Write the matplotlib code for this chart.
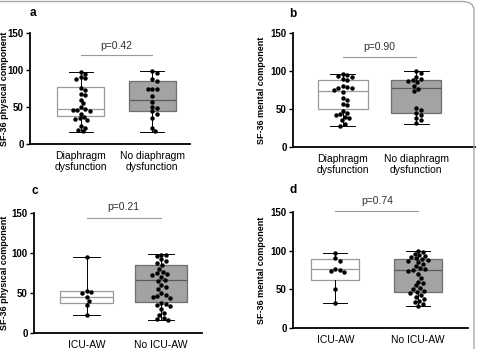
import numpy as np
import matplotlib.pyplot as plt
from matplotlib.patches import FancyBboxPatch

plt.rcParams['font.family'] = ['Liberation Sans', 'DejaVu Sans']

# values
dd_phys = [97, 95, 91, 89, 88, 76, 73, 67, 66, 60, 55, 50, 47, 46, 46, 45, 41,
           37, 35, 34, 32, 24, 22, 19, 17]
nodd_phys = [98, 96, 88, 85, 75, 75, 74, 65, 57, 50, 49, 44, 41, 35, 22, 17]
dd_ment = [96, 95, 93, 92, 90, 88, 80, 79, 78, 77, 75, 73, 65, 62, 56, 55, 48,
           45, 43, 42, 40, 38, 35, 30, 28]
nodd_ment = [100, 97, 92, 90, 88, 87, 85, 80, 76, 74, 51, 49, 45, 42, 38, 35, 32]
icu_phys = [95, 53, 51, 50, 45, 40, 35, 22]
noicu_phys = [98, 97, 96, 92, 90, 88, 85, 80, 76, 75, 74, 73, 70, 66, 65, 60,
              58, 55, 50, 47, 46, 45, 44, 38, 36, 35, 34, 30, 25, 22, 19, 17, 16]
icu_ment = [97, 90, 87, 76, 75, 74, 73, 50, 32]
noicu_ment = [100, 98, 96, 94, 93, 92, 90, 89, 88, 87, 85, 83, 80, 78, 76, 75,
              74, 70, 65, 60, 58, 55, 52, 50, 48, 47, 45, 43, 40, 38, 35, 33, 31, 29]

# box stats (whisker low, q1, median, q3, whisker high)
stats_a = [(16.6, 37.2, 47.9, 76.6, 97.6), (16.1, 45.2, 60, 84.6, 98.5)]
stats_b = [(27.8, 49.9, 73.7, 87.8, 96.2), (30.9, 45, 77.6, 87.8, 99.7)]
stats_c = [(22, 37.9, 45.4, 52, 94.6), (16, 38.3, 66.7, 84.6, 98.3)]
stats_d = [(32, 62, 75.9, 88.9, 97.5), (29, 46.4, 75, 88.9, 100)]

labels_dd = ['Diaphragm\ndysfunction', 'No diaphragm\ndysfunction']
labels_icu = ['ICU-AW', 'No ICU-AW']
pvals = ['p=0.42', 'p=0.90', 'p=0.21', 'p=0.74']

W, H = 478, 349
fig = plt.figure(figsize=(W / 100, H / 100), dpi=100)


def swarm(vals, center, sx, sy, d=4.4):
    # simple beeswarm in pixel space
    placed = []
    xs = np.zeros(len(vals))
    order = np.argsort(vals)[::-1]
    for i in order:
        y = vals[i] * sy
        k = 0
        while True:
            offs = [0.0] if k == 0 else [k * 0.9, -k * 0.9]
            ok = None
            for o in offs:
                if all((o - px) ** 2 + (y - py) ** 2 >= d * d for px, py in placed):
                    ok = o
                    break
            if ok is not None:
                placed.append((ok, y))
                xs[i] = center + ok / sx
                break
            k += 1
    return xs


def panel(rect, groups, stats, labels, ylabel, letter, pval, xlim, width,
          line_y, text_y, ylab_x):
    l, t, w, h = rect
    ax = fig.add_axes([l / W, 1 - (t + h) / H, w / W, h / H])
    ax.set_xlim(*xlim)
    ax.set_ylim(0, 150)
    sx = w / (xlim[1] - xlim[0])
    sy = h / 150.0
    faces = ['white', '#a3a3a3']
    edges = ['#9a9a9a', '#6f6f6f']
    meds = ['#9a9a9a', '#5a5a5a']
    for j, (st, vals) in enumerate(zip(stats, groups)):
        b = dict(whislo=st[0], q1=st[1], med=st[2], q3=st[3], whishi=st[4])
        ax.bxp([b], positions=[j + 1], widths=width, showfliers=False,
               patch_artist=True,
               boxprops=dict(facecolor=faces[j], edgecolor=edges[j], lw=0.9),
               medianprops=dict(color=meds[j], lw=0.9),
               whiskerprops=dict(color='black', lw=0.7),
               capprops=dict(color='black', lw=0.7), capwidths=width * 0.5)
        xs = swarm(np.array(vals, float), j + 1, sx, sy)
        ax.plot(xs, vals, 'o', color='black', ms=3.2, mec='none', zorder=5)
    ax.spines['top'].set_visible(False)
    ax.spines['right'].set_visible(False)
    ax.spines['left'].set_linewidth(1.3)
    ax.spines['bottom'].set_linewidth(1.3)
    ax.set_yticks([0, 50, 100, 150])
    ax.tick_params(axis='y', length=3, width=1, labelsize=7, pad=1.5)
    for tl in ax.get_yticklabels():
        tl.set_fontweight('bold')
    ax.set_xticks([1, 2])
    ax.set_xticklabels(labels, fontsize=7.5, linespacing=1.1)
    ax.tick_params(axis='x', length=0, pad=5)
    ax.set_ylabel(ylabel, fontsize=6.5, fontweight='bold')
    ax.yaxis.set_label_coords(ylab_x, 0.5)
    ax.plot([1, 2], [line_y, line_y], color='#9a9a9a', lw=0.8, clip_on=False)
    ax.text(1.5, text_y, pval, ha='center', va='center', fontsize=7.5,
            color='#333333', clip_on=False)
    fig.text(letter[1] / W, 1 - letter[2] / H, letter[0], fontsize=8.5,
             fontweight='bold', ha='left', va='center')
    return ax


panel((30, 33, 160, 111), [dd_phys, nodd_phys], stats_a, labels_dd,
      'SF-36 physical component', ('a', 30, 13), pvals[0], (0.29, 2.53), 0.66,
      120, 133, -0.13)
panel((293, 33, 182, 114), [dd_ment, nodd_ment], stats_b, labels_dd,
      'SF-36 mental component', ('b', 289, 14), pvals[1], (0.32, 2.8), 0.68,
      118, 131, -0.15)
panel((34, 213, 168, 120), [icu_phys, noicu_phys], stats_c, labels_icu,
      'SF-36 physical component', ('c', 31, 191), pvals[2], (0.295, 2.55), 0.71,
      144, 157, -0.15)
panel((293, 212, 175, 116), [icu_ment, noicu_ment], stats_d, labels_icu,
      'SF-36 mental component', ('d', 289, 190), pvals[3], (0.49, 2.6), 0.58,
      151, 164, -0.155)

# light frame around the figure (top and right edges visible)
frame = FancyBboxPatch((-20 / W, -20 / H), (474 + 20) / W, (347.5 + 20) / H,
                       boxstyle='round,pad=0,rounding_size=0.025',
                       transform=fig.transFigure, fill=False,
                       edgecolor='#a8a8a8', lw=1.0, clip_on=False)
fig.patches.append(frame)

fig.savefig('out.png', dpi=100)
